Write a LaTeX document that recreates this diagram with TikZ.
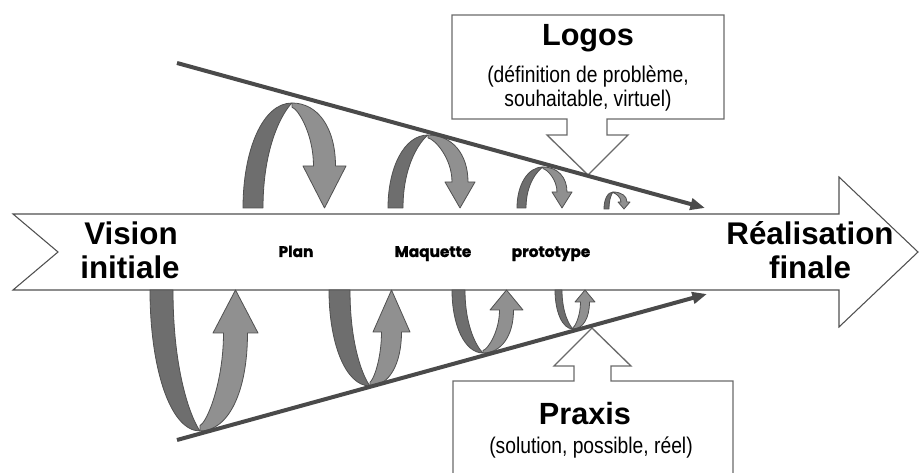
\documentclass[tikz,border=0pt]{standalone}
\usepackage{fontspec}
\setmainfont{Liberation Sans}
\newfontfamily\narrowfont[FakeStretch=0.85]{Liberation Sans}
\newfontfamily\labelfont[FakeBold=1.2]{Poppins}
\usetikzlibrary{arrows.meta}
\definecolor{ribdark}{HTML}{6E6E6E}
\definecolor{riblight}{HTML}{909090}
\definecolor{ribline}{HTML}{505050}
\definecolor{trendline}{HTML}{4A4A4A}
\definecolor{boxline}{HTML}{6A6A6A}
\tikzset{
  darkrib/.style={fill=ribdark,draw=ribline,line width=0.6pt,line join=round},
  lightrib/.style={fill=riblight,draw=ribline,line width=0.6pt,line join=round},
  trend/.style={draw=trendline,line width=3pt,-{Triangle[length=11pt,width=8.5pt]}},
  bigarrow/.style={draw=ribline,fill=white,line width=0.8pt,line join=miter},
  callout/.style={draw=boxline,fill=white,line width=1pt,line join=miter},
  bigtext/.style={font=\fontsize{23.5}{26}\selectfont\bfseries,inner sep=0pt},
  headtext/.style={font=\fontsize{23}{26}\selectfont\bfseries,inner sep=0pt},
  subtext/.style={font=\narrowfont\fontsize{17}{19}\selectfont,inner sep=0pt},
  steplabel/.style={font=\labelfont\bfseries\fontsize{11.5}{13}\selectfont,inner sep=0pt}
}
% #1=a (outer leg x), #2=w (leg width), #3=yb (leg end y), #4=tx, #5=ty (turn point),
% #6=c (shaft centre), #7=s (shaft half width), #8=h (head half width), #9=hy (head base y)
\newcommand\ribbonarrow[9]{%
  \path[darkrib] (#1,#3) .. controls (#1,{#5+(#3-#5)*0.45}) and ({#4-(#4-#1)*0.6},#5) .. (#4,#5)
     .. controls ({#4-(#4-#1-#2)*0.3},{#5+(#3-#5)*0.08}) and ({#1+#2},{#5+(#3-#5)*0.4}) .. ({#1+#2},#3) -- cycle;
  \path[lightrib] (#4,#5) .. controls ({#4+(#6+#7-#4)*0.6},#5) and ({#6+#7},{#5+(#9-#5)*0.4}) .. ({#6+#7},#9)
     -- ({#6+#8},#9) -- (#6,#3) -- ({#6-#8},#9) -- ({#6-#7},#9)
     .. controls ({#6-#7},{#5+(#9-#5)*0.5}) and ({#4+(#6-#7-#4)*0.3},{#5+(#3-#5)*0.06}) .. (#4,{#5+(#3-#5)*0.04}) -- cycle;
}
\begin{document}
\begin{tikzpicture}[x=0.75pt,y=-0.75pt]
\useasboundingbox (0,0) rectangle (921,473);
% main arrow
\path[bigarrow] (13,214) -- (839,214) -- (839,177) -- (918,252) -- (839,327) -- (839,290) -- (13,290) -- (58,252) -- cycle;
% callouts
\path[callout] (452,15) -- (724,15) -- (724,119) -- (607,119) -- (607,135) -- (628,135) -- (588,175)
   -- (547,135) -- (567,135) -- (567,119) -- (452,119) -- cycle;
\fill[white] (453,381) rectangle (733,476);
\draw[callout] (453,476) -- (453,381) -- (574,381) -- (574,366) -- (554,366) -- (592,328) -- (631,366)
   -- (611,366) -- (611,381) -- (733,381) -- (733,476);
% ribbon arrows, top
\ribbonarrow{243}{20}{208}{292}{103}{324.5}{11}{21.5}{166}
\ribbonarrow{388}{15}{208}{428}{135}{460}{8}{15}{182}
\ribbonarrow{517}{9}{208}{543}{167}{562}{5}{10}{192}
\ribbonarrow{604}{5}{209}{613}{192}{624}{3}{6}{202}
% ribbon arrows, bottom
\ribbonarrow{150}{23}{290}{200}{431}{235.5}{12}{22.5}{333}
\ribbonarrow{329}{21}{290}{370}{386}{391.5}{10}{18.5}{332}
\ribbonarrow{452}{13}{290}{483}{353}{506.5}{7}{16.5}{310}
\ribbonarrow{555}{7}{290}{573}{329}{585}{4.5}{10}{302}
% trend lines
\coordinate (tstart) at (177,63);
\coordinate (tend) at (705,208);
\coordinate (bstart) at (177,440);
\coordinate (bend) at (707,294);
\draw[trend] (tstart) -- (tend);
\draw[trend] (bstart) -- (bend);
% texts
\node[bigtext,anchor=base] (vision1) at (131,245) {Vision};
\node[bigtext,anchor=base] (vision2) at (130,279) {initiale};
\node[bigtext,anchor=base] (real1) at (810,245) {Réalisation};
\node[bigtext,anchor=base] (real2) at (810,279) {finale};
\node[steplabel,anchor=base] (plan) at (296,257) {Plan};
\node[steplabel,anchor=base] (maquette) at (433,257) {Maquette};
\node[steplabel,anchor=base] (prototype) at (551,257) {prototype};
\node[headtext,anchor=base] (logos) at (588,46) {Logos};
\node[subtext,anchor=base] (logos1) at (588,83) {(définition de problème,};
\node[subtext,anchor=base] (logos2) at (588,107) {souhaitable, virtuel)};
\node[headtext,anchor=base] (praxis) at (585,425) {Praxis};
\node[subtext,anchor=base] (praxis1) at (591,454) {(solution, possible, réel)};
\end{tikzpicture}
\end{document}
